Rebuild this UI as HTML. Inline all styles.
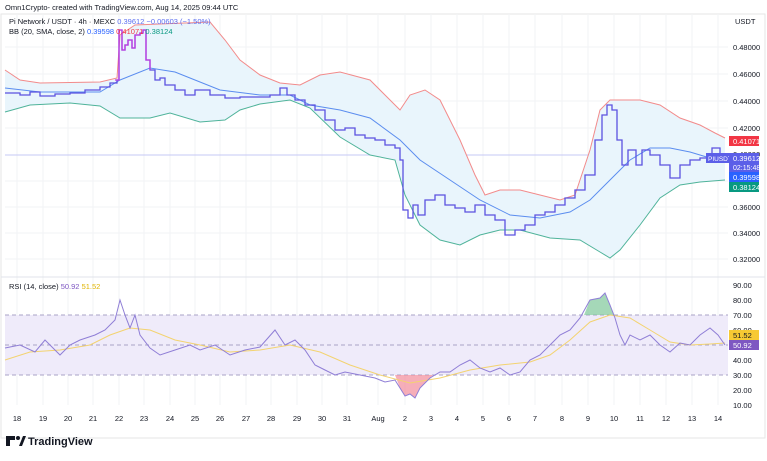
<!DOCTYPE html><html><head><style>
body{margin:0;background:#fff;font-family:"Liberation Sans",sans-serif;}
svg text{font-family:"Liberation Sans",sans-serif;}
</style></head><body>
<svg width="767" height="456" viewBox="0 0 767 456" xmlns="http://www.w3.org/2000/svg">
<rect width="767" height="456" fill="#fff"/>
<rect x="1" y="14" width="764" height="424" fill="none" stroke="#e6e6e6"/>
<g stroke="#f2f3f5" stroke-width="1">
<line x1="5" y1="47" x2="728" y2="47"/><line x1="5" y1="74" x2="728" y2="74"/><line x1="5" y1="101" x2="728" y2="101"/><line x1="5" y1="128" x2="728" y2="128"/><line x1="5" y1="181" x2="728" y2="181"/><line x1="5" y1="207" x2="728" y2="207"/><line x1="5" y1="233" x2="728" y2="233"/><line x1="5" y1="259" x2="728" y2="259"/>
<line x1="17" y1="14" x2="17" y2="405"/><line x1="43" y1="14" x2="43" y2="405"/><line x1="68" y1="14" x2="68" y2="405"/><line x1="93" y1="14" x2="93" y2="405"/><line x1="119" y1="14" x2="119" y2="405"/><line x1="144" y1="14" x2="144" y2="405"/><line x1="170" y1="14" x2="170" y2="405"/><line x1="195" y1="14" x2="195" y2="405"/><line x1="220" y1="14" x2="220" y2="405"/><line x1="246" y1="14" x2="246" y2="405"/><line x1="271" y1="14" x2="271" y2="405"/><line x1="297" y1="14" x2="297" y2="405"/><line x1="322" y1="14" x2="322" y2="405"/><line x1="347" y1="14" x2="347" y2="405"/><line x1="378" y1="14" x2="378" y2="405"/><line x1="405" y1="14" x2="405" y2="405"/><line x1="431" y1="14" x2="431" y2="405"/><line x1="457" y1="14" x2="457" y2="405"/><line x1="483" y1="14" x2="483" y2="405"/><line x1="509" y1="14" x2="509" y2="405"/><line x1="535" y1="14" x2="535" y2="405"/><line x1="562" y1="14" x2="562" y2="405"/><line x1="588" y1="14" x2="588" y2="405"/><line x1="614" y1="14" x2="614" y2="405"/><line x1="640" y1="14" x2="640" y2="405"/><line x1="666" y1="14" x2="666" y2="405"/><line x1="692" y1="14" x2="692" y2="405"/><line x1="718" y1="14" x2="718" y2="405"/>
</g>
<line x1="1" y1="277" x2="765" y2="277" stroke="#e0e3eb"/>
<line x1="5" y1="155" x2="728" y2="155" stroke="#c5c8f5" stroke-width="1"/>
<path d="M5,70 L20,80 L40,83 L100,82 L117,78 L120,35 L135,25 L210,22 L225,40 L240,60 L260,75 L280,83 L300,85 L320,75 L340,72 L370,80 L385,95 L400,110 L410,95 L425,90 L440,100 L460,140 L475,175 L485,195 L500,190 L520,190 L540,195 L560,200 L575,195 L590,150 L600,110 L610,100 L640,100 L660,105 L680,118 L700,125 L715,133 L725,138 L725,180 L700,182 L680,185 L660,198 L640,225 L620,250 L610,258 L600,252 L580,240 L550,238 L520,230 L500,230 L480,235 L460,245 L440,240 L420,225 L405,195 L395,160 L370,155 L340,137 L310,108 L290,100 L260,104 L240,110 L225,120 L200,122 L170,113 L150,118 L120,118 L100,106 L70,103 L30,105 L5,112 Z" fill="#e9f5fc"/>
<polyline fill="none" stroke="#f28b8b" stroke-width="1" points="5,70 20,80 40,83 100,82 117,78 120,35 135,25 210,22 225,40 240,60 260,75 280,83 300,85 320,75 340,72 370,80 385,95 400,110 410,95 425,90 440,100 460,140 475,175 485,195 500,190 520,190 540,195 560,200 575,195 590,150 600,110 610,100 640,100 660,105 680,118 700,125 715,133 725,138"/>
<polyline fill="none" stroke="#5b8def" stroke-width="1" points="5,88 40,92 100,92 120,80 150,68 175,72 195,80 220,90 260,95 290,95 310,105 340,110 370,118 400,140 420,160 450,180 480,200 510,215 540,218 570,212 590,200 610,180 630,160 650,148 670,148 690,152 710,158 725,160"/>
<polyline fill="none" stroke="#4fb39a" stroke-width="1" points="5,112 30,105 70,103 100,106 120,118 150,118 170,113 200,122 225,120 240,110 260,104 290,100 310,108 340,137 370,155 395,160 405,195 420,225 440,240 460,245 480,235 500,230 520,230 550,238 580,240 600,252 610,258 620,250 640,225 660,198 680,185 700,182 725,180"/>
<path fill="none" stroke="#5b52e0" stroke-width="1.3" d="M5,93 H20 V95 H30 V92 H40 V96 H55 V94 H70 V93 H85 V90 H100 V87 H110 V83 H117 V80 H119 V30 H122 V50 H125 V45 H128 V40 H132 V48 H135 V35 H140 V33 H143 V30 H146 V60 H150 V70 H155 V80 H160 V78 H165 V85 H175 V90 H185 V95 H195 V90 H210 V95 H225 V98 H240 V97 H255 V97 H270 V95 H280 V88 H287 V95 H295 V100 H305 V105 H315 V110 H325 V120 H335 V130 H345 V128 H355 V135 H365 V138 H375 V140 H385 V145 H395 V148 H400 V160 H403 V210 H408 V218 H413 V205 H418 V215 H425 V200 H435 V195 H445 V205 H455 V208 H465 V212 H475 V205 H485 V215 H495 V220 H505 V235 H515 V230 H525 V225 H535 V215 H545 V212 H555 V205 H565 V198 H575 V190 H585 V175 H595 V140 H602 V115 H607 V105 H612 V110 H617 V140 H622 V165 H628 V150 H636 V165 H642 V150 H650 V155 H660 V165 H670 V178 H680 V165 H690 V160 H700 V158 H712 V148 H720 V155 H725"/>
<path fill="none" stroke="#c03be0" stroke-width="1.3" d="M115,80 H119 V30 H122 V50 H125 V45 H128 V40 H132 V48 H135 V35 H140 V33 H143 V30 H146 V60 H150 V70"/>
<rect x="5" y="315" width="723" height="60" fill="#efebfa"/>
<g stroke="#a9a3c7" stroke-dasharray="4,3"><line x1="5" y1="315" x2="728" y2="315"/><line x1="5" y1="345" x2="728" y2="345"/><line x1="5" y1="375" x2="728" y2="375"/></g>
<path d="M395,375 L400,388 L405,396 L410,394 L415,398 L420,388 L430,378 L433,375 Z" fill="#f28b9b" opacity="0.7"/>
<path d="M584,315 L590,300 L600,298 L605,293 L610,305 L614,315 Z" fill="#7fc79a" opacity="0.7"/>
<polyline fill="none" stroke="#f3d370" stroke-width="1" points="5,360 30,352 60,350 90,345 110,335 130,328 150,330 175,340 200,345 230,352 260,350 290,345 320,352 350,365 380,375 410,383 440,378 470,370 500,365 530,362 550,355 570,340 590,322 610,315 630,318 650,330 670,342 690,345 710,344 725,343"/>
<polyline fill="none" stroke="#8f7ed6" stroke-width="1" points="5,348 20,345 35,352 45,340 60,355 70,345 80,340 95,335 105,330 115,320 120,300 125,315 130,328 135,315 140,335 150,348 160,355 175,350 190,345 200,350 215,345 230,355 245,350 260,347 275,330 285,345 295,340 305,350 315,365 325,370 335,375 345,372 360,375 375,378 385,382 395,380 400,388 405,396 410,394 415,398 420,388 430,378 440,372 450,372 460,365 470,360 480,368 490,372 500,368 510,375 520,372 530,360 540,355 550,345 560,335 570,330 580,318 590,300 600,298 605,293 610,305 615,318 620,335 625,345 630,335 640,340 650,335 660,345 670,352 680,343 690,345 700,335 710,328 718,335 725,345"/>
<g font-size="7.5" fill="#131722">
<text x="5" y="10">Omn1Crypto- created with TradingView.com, Aug 14, 2025 09:44 UTC</text>
<text x="9" y="24">Pi Network / USDT · 4h · MEXC <tspan fill="#5b6ef0">0.39612</tspan> <tspan fill="#5b6ef0">−0.00603 (−1.50%)</tspan></text>
<text x="9" y="34">BB (20, SMA, close, 2) <tspan fill="#2962ff">0.39598</tspan> <tspan fill="#f23645">0.41071</tspan> <tspan fill="#089981">0.38124</tspan></text>
<text x="9" y="289">RSI (14, close) <tspan fill="#7e57c2">50.92</tspan> <tspan fill="#e0b400">51.52</tspan></text>
<text x="735" y="24">USDT</text>
<text x="733" y="50">0.48000</text><text x="733" y="77">0.46000</text><text x="733" y="104">0.44000</text><text x="733" y="131">0.42000</text><text x="733" y="157">0.40000</text><text x="733" y="210">0.36000</text><text x="733" y="236">0.34000</text><text x="733" y="262">0.32000</text>
<text x="733" y="288">90.00</text><text x="733" y="303">80.00</text><text x="733" y="318">70.00</text><text x="733" y="333">60.00</text><text x="733" y="363">40.00</text><text x="733" y="378">30.00</text><text x="733" y="393">20.00</text><text x="733" y="408">10.00</text>
</g>
<g font-size="7.5" fill="#131722" text-anchor="middle">
<text x="17" y="421">18</text><text x="43" y="421">19</text><text x="68" y="421">20</text><text x="93" y="421">21</text><text x="119" y="421">22</text><text x="144" y="421">23</text><text x="170" y="421">24</text><text x="195" y="421">25</text><text x="220" y="421">26</text><text x="246" y="421">27</text><text x="271" y="421">28</text><text x="297" y="421">29</text><text x="322" y="421">30</text><text x="347" y="421">31</text><text x="378" y="421">Aug</text><text x="405" y="421">2</text><text x="431" y="421">3</text><text x="457" y="421">4</text><text x="483" y="421">5</text><text x="509" y="421">6</text><text x="535" y="421">7</text><text x="562" y="421">8</text><text x="588" y="421">9</text><text x="614" y="421">10</text><text x="640" y="421">11</text><text x="666" y="421">12</text><text x="692" y="421">13</text><text x="718" y="421">14</text>
</g>
<rect x="729" y="136" width="30" height="10" fill="#f23645"/><text x="733" y="144" font-size="7.5" fill="#fff">0.41071</text>
<rect x="706" y="153" width="23" height="10" fill="#5b5fe8"/><text x="708" y="161" font-size="6.5" fill="#fff">PIUSDT</text>
<rect x="729" y="153" width="30" height="19" fill="#5b5fe8"/><text x="733" y="161" font-size="7.5" fill="#fff">0.39612</text><text x="733" y="170" font-size="7" fill="#fff">02:15:48</text>
<rect x="729" y="172" width="30" height="10" fill="#2962ff"/><text x="733" y="180" font-size="7.5" fill="#fff">0.39598</text>
<rect x="729" y="182" width="30" height="10" fill="#089981"/><text x="733" y="190" font-size="7.5" fill="#fff">0.38124</text>
<rect x="729" y="330" width="30" height="10" fill="#f7c933"/><text x="733" y="338" font-size="7.5" fill="#131722">51.52</text>
<rect x="729" y="340" width="30" height="10" fill="#7e57c2"/><text x="733" y="348" font-size="7.5" fill="#fff">50.92</text>
<g fill="#131722"><rect x="6" y="436" width="9" height="4"/><circle cx="18" cy="438" r="2"/><path d="M19,446 L23,436 L26,436 L22,446 Z"/><rect x="6" y="440" width="4" height="6"/></g>
<text x="28" y="445" font-size="11" font-weight="bold" fill="#131722">TradingView</text>
</svg>
</body></html>
